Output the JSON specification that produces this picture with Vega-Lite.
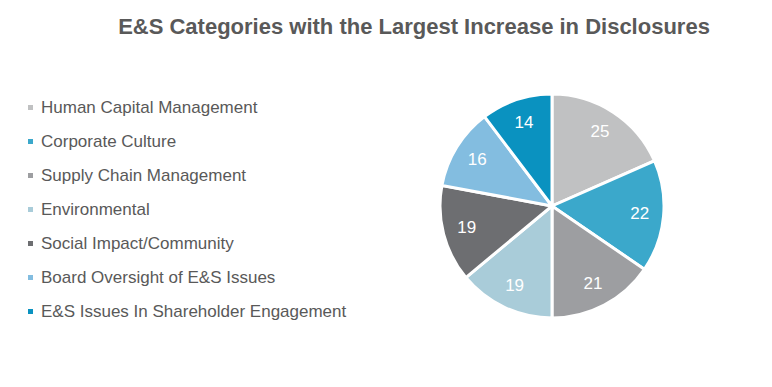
{
  "$schema": "https://vega.github.io/schema/vega-lite/v6.json",
  "autosize": "none",
  "width": 224,
  "height": 224,
  "padding": {"left": 440, "top": 94, "right": 108, "bottom": 69},
  "background": "white",
  "config": {"view": {"stroke": null}, "font": "Liberation Sans"},
  "title": {
    "text": "E&S Categories with the Largest Increase in Disclosures",
    "anchor": "middle",
    "frame": "group",
    "dx": -138,
    "offset": 49,
    "fontSize": 22,
    "fontWeight": "bold",
    "color": "#595959",
    "font": "Liberation Sans"
  },
  "data": {
    "values": [
      {"category": "Human Capital Management", "count": 25, "rank": 1},
      {"category": "Corporate Culture", "count": 22, "rank": 2},
      {"category": "Supply Chain Management", "count": 21, "rank": 3},
      {"category": "Environmental", "count": 19, "rank": 4},
      {"category": "Social Impact/Community", "count": 19, "rank": 5},
      {"category": "Board Oversight of E&S Issues", "count": 16, "rank": 6},
      {"category": "E&S Issues In Shareholder Engagement", "count": 14, "rank": 7}
    ]
  },
  "encoding": {
    "theta": {"field": "count", "type": "quantitative", "stack": true},
    "order": {"field": "rank", "type": "quantitative"},
    "color": {
      "field": "category",
      "type": "nominal",
      "scale": {
        "domain": ["Human Capital Management", "Corporate Culture", "Supply Chain Management", "Environmental", "Social Impact/Community", "Board Oversight of E&S Issues", "E&S Issues In Shareholder Engagement"],
        "range": ["#c0c1c2", "#3ba8cb", "#9d9ea1", "#a9ccd9", "#6d6e71", "#83bde0", "#0a92c0"]
      },
      "legend": {
        "title": null,
        "orient": "none",
        "legendX": -418,
        "legendY": 5,
        "symbolType": "square",
        "symbolSize": 25,
        "symbolStrokeWidth": 0,
        "labelFontSize": 17,
        "labelColor": "#595959",
        "labelFont": "Liberation Sans",
        "labelOffset": 2,
        "rowPadding": 16,
        "labelLimit": 400
      }
    }
  },
  "layer": [
    {
      "mark": {"type": "arc", "outerRadius": 112, "stroke": "white", "strokeWidth": 3}
    },
    {
      "mark": {"type": "text", "radius": 88, "fontSize": 17, "fill": "white", "font": "Liberation Sans"},
      "encoding": {
        "text": {"field": "count", "type": "quantitative"},
        "color": {"value": "white"}
      }
    }
  ]
}
